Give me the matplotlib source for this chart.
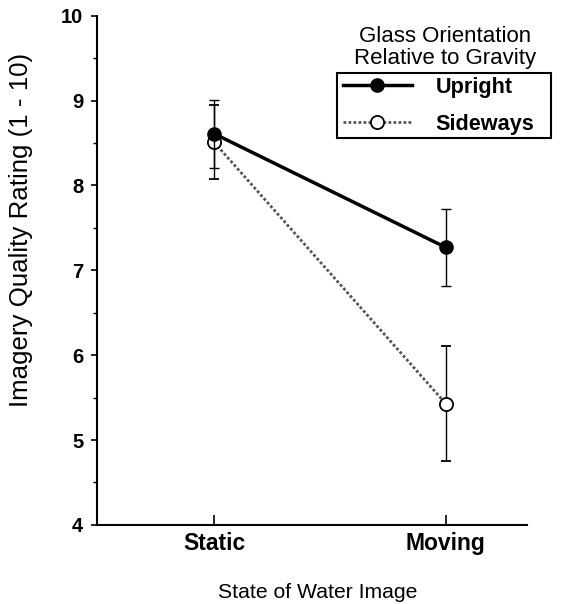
import matplotlib
matplotlib.use("Agg")
import matplotlib.pyplot as plt
from matplotlib.ticker import MultipleLocator
from matplotlib.lines import Line2D
from matplotlib.patches import Rectangle

plt.rcParams['font.family'] = ['Liberation Sans', 'DejaVu Sans']

conditions = ["Static", "Moving"]
upright_mean = [8.61, 7.27]
upright_err = [0.40, 0.45]
sideways_mean = [8.51, 5.43]
sideways_err = [0.44, 0.68]
yticks = [4, 5, 6, 7, 8, 9, 10]

W, H = 561, 604
fig = plt.figure(figsize=(W / 100, H / 100), dpi=100)
ax = fig.add_axes([0.173, 0.131, 0.766, 0.843])

x = list(range(len(conditions)))
ax.errorbar(x, sideways_mean, yerr=sideways_err, color='#555555', ls=(0, (1, 0.8)),
            lw=2.0, marker='o', ms=9.5, mfc='white', mec='black', mew=1.3,
            ecolor='black', elinewidth=1.0, capsize=3.5, capthick=1.0, zorder=3)
ax.errorbar(x, upright_mean, yerr=upright_err, color='black', ls='-',
            lw=2.5, marker='o', ms=9.5, mfc='black', mec='black',
            ecolor='black', elinewidth=1.0, capsize=3.5, capthick=1.0, zorder=4)

ax.set_xlim(-0.505, 1.35)
ax.set_ylim(4, 10)
ax.set_xticks(x)
ax.set_xticklabels(conditions, fontsize=16.5, fontweight='bold')
ax.set_yticks(yticks)
ax.set_yticklabels([str(v) for v in yticks], fontsize=14.5, fontweight='bold')
ax.yaxis.set_minor_locator(MultipleLocator(0.5))
ax.tick_params(axis='y', which='major', direction='out', length=4, width=1.2, pad=6)
ax.tick_params(axis='y', which='minor', direction='out', length=3, width=1.0)
ax.tick_params(axis='x', which='major', direction='in', length=7, width=1.2, pad=5)
for s in ['top', 'right']:
    ax.spines[s].set_visible(False)
for s in ['left', 'bottom']:
    ax.spines[s].set_linewidth(1.5)

fig.text(21.5 / W, 1 - 230 / H, "Imagery Quality Rating (1 - 10)", rotation=90,
         ha='center', va='center', fontsize=18.6)
fig.text(317.5 / W, 1 - 598 / H, "State of Water Image", ha='center', va='baseline',
         fontsize=15.2)

fig.text(445 / W, 1 - 42 / H, "Glass Orientation", ha='center', va='baseline', fontsize=16)
fig.text(445 / W, 1 - 64 / H, "Relative to Gravity", ha='center', va='baseline', fontsize=16)

handles = [
    Line2D([], [], color='black', lw=2.5, marker='o', ms=9.5, mfc='black', mec='black'),
    Line2D([], [], color='#555555', ls=(0, (1, 0.8)), lw=2.0, marker='o', ms=9.5,
           mfc='white', mec='black', mew=1.3),
]
leg = fig.legend(handles, ["Upright", "Sideways"], loc='upper left',
                 bbox_to_anchor=(343 / W, 1 - 77 / H), frameon=False,
                 handlelength=3.18, handletextpad=1.1, borderpad=0, borderaxespad=0,
                 labelspacing=0.73, prop={'size': 15.6, 'weight': 'bold'})
fig.patches.append(Rectangle((337 / W, 1 - 138 / H), 214 / W, 65 / H,
                             transform=fig.transFigure, fill=False,
                             edgecolor='black', linewidth=1.5))

fig.savefig("out.png", dpi=100, facecolor='white')
